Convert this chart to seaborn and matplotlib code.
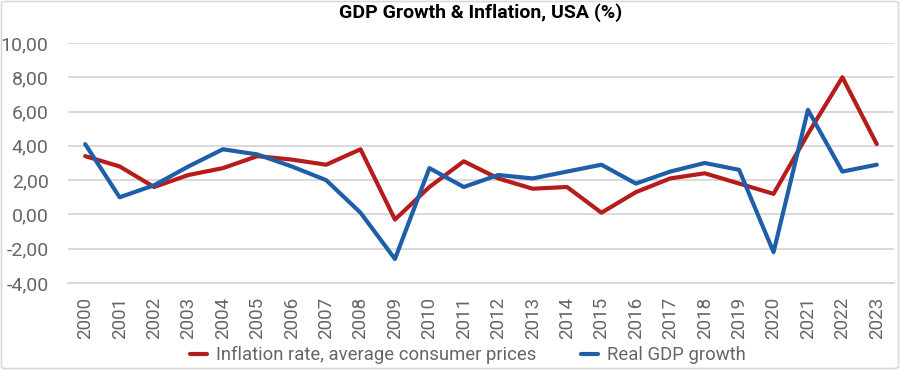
import matplotlib
matplotlib.use("Agg")
import matplotlib.pyplot as plt
import matplotlib.ticker as mticker
from matplotlib.patches import FancyBboxPatch
from matplotlib.lines import Line2D
import seaborn as sns
import pandas as pd
import numpy as np

years = [str(y) for y in range(2000, 2024)]
inflation = [3.4, 2.8, 1.6, 2.3, 2.7, 3.4, 3.2, 2.9, 3.8, -0.3, 1.6, 3.1,
             2.1, 1.5, 1.6, 0.1, 1.3, 2.1, 2.4, 1.8, 1.2, 4.7, 8.0, 4.1]
gdp = [4.1, 1.0, 1.7, 2.8, 3.8, 3.5, 2.8, 2.0, 0.1, -2.6, 2.7, 1.6,
       2.3, 2.1, 2.5, 2.9, 1.8, 2.5, 3.0, 2.6, -2.2, 6.1, 2.5, 2.9]
series_names = ["Inflation rate, average consumer prices", "Real GDP growth"]
y_ticks = [-4, -2, 0, 2, 4, 6, 8, 10]

sns.set_theme(style="white")
plt.rcParams['font.family'] = ['Roboto', 'DejaVu Sans']

df = pd.DataFrame({
    "idx": list(range(len(years))) * 2,
    "value": inflation + gdp,
    "series": [series_names[0]] * len(years) + [series_names[1]] * len(years),
})

TXT = "#666666"
WEIGHT = "normal"

fig = plt.figure(figsize=(9, 3.7), dpi=100)
ax = fig.add_axes([68 / 900, 1 - 283 / 370, (894 - 68) / 900, (283 - 43) / 370])

sns.lineplot(data=df, x="idx", y="value", hue="series",
             palette={series_names[0]: "#B71C1C", series_names[1]: "#1E5FA8"},
             linewidth=3, ax=ax, legend=False, sort=False, zorder=3)

ax.set_xlim(-0.5, len(years) - 0.5)
ax.set_ylim(-4, 10)
ax.set_yticks(y_ticks)
ax.yaxis.set_major_formatter(mticker.FuncFormatter(lambda v, p: f"{v:.2f}".replace(".", ",")))
ax.set_xticks(range(len(years)))
ax.set_xticklabels(years, rotation=90)
ax.set_xticks(np.arange(-0.5, len(years), 1), minor=True)
ax.tick_params(axis="x", which="major", length=0, pad=10, labelsize=13.5, labelcolor=TXT)
ax.tick_params(axis="x", which="minor", length=5, width=1.2, color="#D9D9D9", direction="out")
ax.tick_params(axis="y", length=0, pad=14, labelsize=14, labelcolor=TXT)
ax.set_xlabel("")
ax.set_ylabel("")
ax.grid(axis="y", color="#D9D9D9", linewidth=1.4, zorder=0)
ax.grid(axis="x", visible=False)
for s in ["top", "right", "left"]:
    ax.spines[s].set_visible(False)
ax.spines["bottom"].set_color("#D9D9D9")
ax.spines["bottom"].set_linewidth(1.4)
for lbl in ax.get_xticklabels() + ax.get_yticklabels():
    lbl.set_fontweight(WEIGHT)

fig.text(481 / 900, 1 - 13 / 370, "GDP Growth & Inflation, USA (%)", ha="center", va="center",
         fontsize=14, fontweight="bold", color="black")

handles = [Line2D([], [], color="#B71C1C", linewidth=3),
           Line2D([], [], color="#1E5FA8", linewidth=3)]
fig.legend(handles, series_names, loc="center", bbox_to_anchor=(468 / 900, 1 - 355 / 370),
           ncol=2, frameon=False, handlelength=0.9, handletextpad=0.5,
           columnspacing=2.4, labelcolor=TXT, prop={"weight": WEIGHT, "size": 13.3})

border = FancyBboxPatch((1.5 / 900, 1.5 / 370), 897 / 900, 367 / 370,
                        boxstyle="round,pad=0,rounding_size=0.005",
                        transform=fig.transFigure, fill=False,
                        edgecolor="#D9D9D9", linewidth=1.2)
fig.patches.append(border)

fig.savefig("out.png", dpi=100)
